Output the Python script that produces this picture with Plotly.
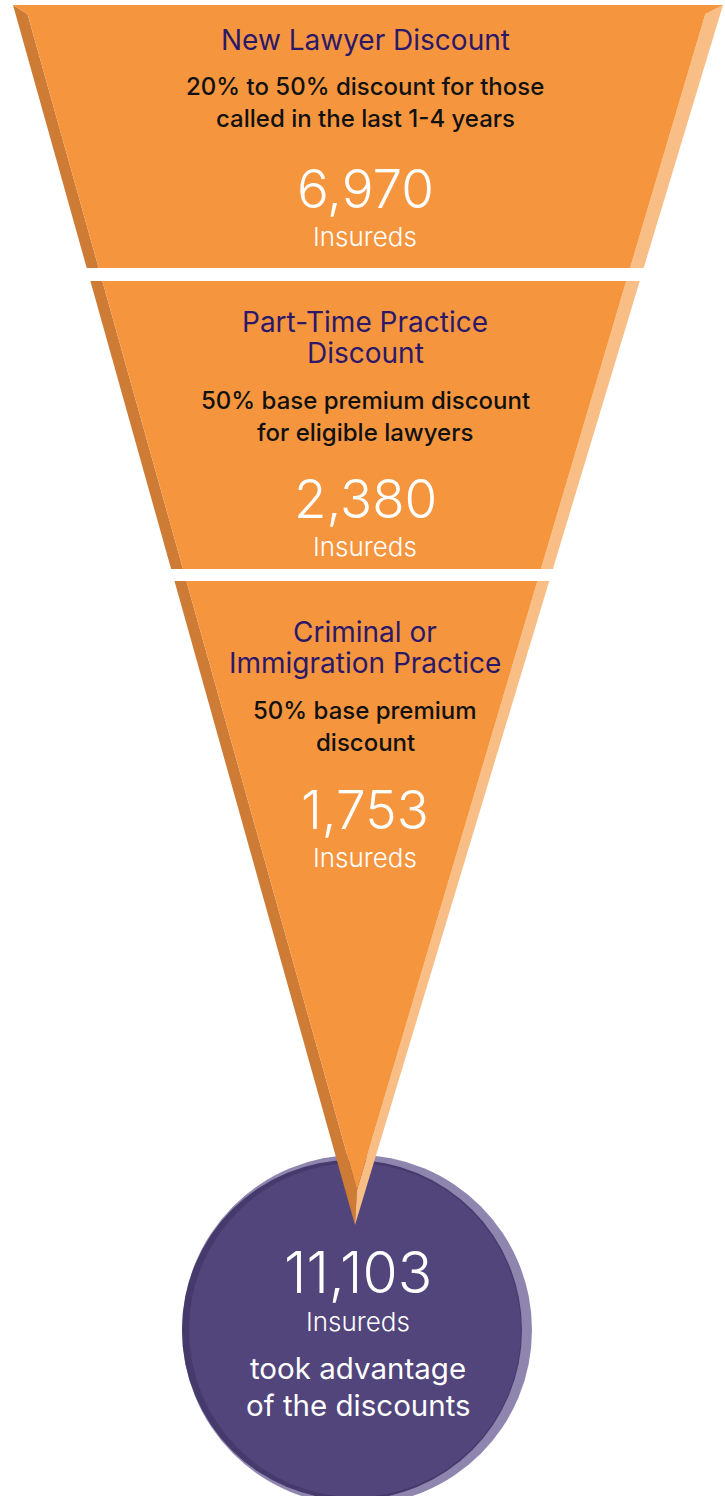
import plotly.graph_objects as go

# --- content -------------------------------------------------------------
categories = ["New Lawyer Discount",
              "Part-Time Practice<br>Discount",
              "Criminal or<br>Immigration Practice"]
descriptions = ["20% to 50% discount for those<br>called in the last 1-4 years",
                "50% base premium discount<br>for eligible lawyers",
                "50% base premium<br>discount"]
insureds = [6970, 2380, 1753]
unit_label = "Insureds"
summary_label = "took advantage<br>of the discounts"
total_insureds = sum(insureds)

# --- palette -------------------------------------------------------------
ORANGE = "#F5963F"
ORANGE_DARK = "#CE7C35"
ORANGE_LIGHT = "#F9BE86"
PURPLE = "#51457B"
PURPLE_DARK = "#463A6D"
PURPLE_LIGHT = "#8F86AF"
TITLE_COLOR = "#2C1868"
FONT = "Inter"

W, H = 725, 1496

# funnel geometry (canvas pixel space, y grows downward)
TOP_Y = 5
APEX = (355, 1225)
FRONT_TIP = (357, 1190)
OUTER_L_TOP, OUTER_R_TOP = 13, 723
INNER_L_TOP, INNER_R_TOP = 25, 708
bands = [(5, 268), (281, 569), (581, None)]


def lerp_line(x0, y0, x1, y1):
    return lambda y: x0 + (x1 - x0) * (y - y0) / (y1 - y0)


outer_l = lerp_line(OUTER_L_TOP, TOP_Y, *APEX)
outer_r = lerp_line(OUTER_R_TOP, TOP_Y, *APEX)
inner_l = lerp_line(INNER_L_TOP, TOP_Y, *FRONT_TIP)
inner_r = lerp_line(INNER_R_TOP, TOP_Y, *FRONT_TIP)

fig = go.Figure()


def poly(pts, color):
    xs = [p[0] for p in pts] + [pts[0][0]]
    ys = [p[1] for p in pts] + [pts[0][1]]
    fig.add_trace(go.Scatter(x=xs, y=ys, mode="lines", fill="toself",
                             fillcolor=color, line=dict(width=0, color=color),
                             hoverinfo="skip", showlegend=False))


# summary disc (below the funnel tip)
cx, cy, r = 357, 1330, 175
fig.add_shape(type="circle", xref="x", yref="y", layer="below",
              x0=cx - r, x1=cx + r, y0=cy - r, y1=cy + r,
              fillcolor=PURPLE_LIGHT, line_width=0)
fig.add_shape(type="circle", xref="x", yref="y", layer="below",
              x0=cx - 5 - 170, x1=cx - 5 + 170, y0=cy - 170, y1=cy + 170,
              fillcolor=PURPLE_DARK, line_width=0)
fig.add_shape(type="circle", xref="x", yref="y", layer="below",
              x0=cx - 2 - 166, x1=cx - 2 + 166, y0=cy - 167, y1=cy + 167,
              fillcolor=PURPLE, line_width=0)

# funnel bands: dark left face, front face, light right face
for i, (y0, y1) in enumerate(bands):
    bevel_y0 = y0 + 9 if i == 0 else y0
    if y1 is not None:
        poly([(outer_l(y0), y0), (inner_l(bevel_y0), bevel_y0),
              (inner_l(y1), y1), (outer_l(y1), y1)], ORANGE_DARK)
        poly([(inner_r(bevel_y0), bevel_y0), (outer_r(y0), y0),
              (outer_r(y1), y1), (inner_r(y1), y1)], ORANGE_LIGHT)
        if i == 0:
            poly([(outer_l(y0), y0), (outer_r(y0), y0),
                  (inner_r(bevel_y0), bevel_y0), (inner_r(y1), y1),
                  (inner_l(y1), y1), (inner_l(bevel_y0), bevel_y0)], ORANGE)
        else:
            poly([(inner_l(y0), y0), (inner_r(y0), y0),
                  (inner_r(y1), y1), (inner_l(y1), y1)], ORANGE)
    else:
        poly([(outer_l(y0), y0), (inner_l(y0), y0), FRONT_TIP, APEX],
             ORANGE_DARK)
        poly([(inner_r(y0), y0), (outer_r(y0), y0), APEX, FRONT_TIP],
             ORANGE_LIGHT)
        poly([(inner_l(y0), y0), (inner_r(y0), y0), FRONT_TIP], ORANGE)

# --- text ------------------------------------------------------------------
text_x = 365
title_y = [40, 322, 632]      # first line of each title
desc_y = [86, 400, 710]       # first line of each description
value_y = [189, 499, 810]
unit_y = [236, 546, 857]


def label(x, y, text, size, color, weight=400, gap=0):
    """Centre each <br>-separated line, stepping down by `gap` pixels."""
    font = dict(family=FONT, size=size, color=color, weight=weight)
    for k, line in enumerate(text.split("<br>")):
        fig.add_annotation(x=x, y=y + k * gap, xref="x", yref="y", text=line,
                           showarrow=False, font=font, align="center",
                           xanchor="center", yanchor="middle")


for i in range(len(categories)):
    label(text_x, title_y[i], categories[i], 28, TITLE_COLOR, gap=31)
    label(text_x, desc_y[i], descriptions[i], 24, "#111111", weight=500,
          gap=32)
    label(text_x, value_y[i], f"{insureds[i]:,}", 53, "white", weight=300)
    label(text_x, unit_y[i], unit_label, 26, "white", weight=300)

label(358, 1272, f"{total_insureds:,}", 57, "white", weight=300)
label(358, 1321, unit_label, 26, "white", weight=300)
label(358, 1368, summary_label, 29.5, "white", gap=37)

fig.update_layout(
    width=W, height=H, margin=dict(l=0, r=0, t=0, b=0),
    paper_bgcolor="white", plot_bgcolor="white",
    xaxis=dict(range=[0, W], visible=False, fixedrange=True),
    yaxis=dict(range=[H, 0], visible=False, fixedrange=True),
    showlegend=False,
)

fig.write_html("out.html")
